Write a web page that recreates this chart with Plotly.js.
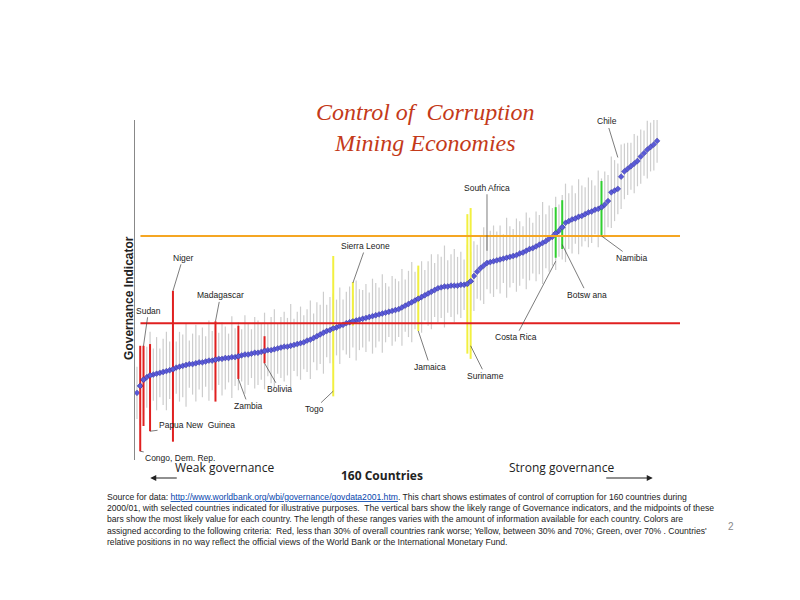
<!DOCTYPE html>
<html>
<head>
<meta charset="utf-8">
<script src="https://cdn.plot.ly/plotly-3.0.1.min.js"></script>
<style>body{margin:0;background:#fff}#chart{width:800px;height:600px}</style>
</head>
<body>
<div id="chart"></div>
<script>
// midpoint estimates for the 160 countries, sorted
var midpoints = [
  -1.30,-1.22,-1.15,-1.12,-1.10,-1.09,-1.08,-1.07,-1.06,-1.05,
  -1.04,-1.03,-1.01,-1.00,-0.99,-0.98,-0.97,-0.97,-0.96,-0.95,
  -0.95,-0.94,-0.93,-0.93,-0.92,-0.91,-0.91,-0.90,-0.90,-0.89,
  -0.89,-0.88,-0.87,-0.86,-0.86,-0.85,-0.84,-0.84,-0.83,-0.82,
  -0.81,-0.81,-0.80,-0.79,-0.78,-0.77,-0.77,-0.76,-0.75,-0.74,
  -0.73,-0.72,-0.70,-0.69,-0.67,-0.65,-0.63,-0.61,-0.59,-0.58,
  -0.56,-0.55,-0.53,-0.52,-0.50,-0.49,-0.48,-0.47,-0.46,-0.45,
  -0.44,-0.43,-0.42,-0.41,-0.40,-0.39,-0.38,-0.37,-0.36,-0.35,
  -0.34,-0.32,-0.30,-0.28,-0.26,-0.24,-0.22,-0.20,-0.18,-0.16,
  -0.14,-0.12,-0.10,-0.09,-0.08,-0.08,-0.07,-0.07,-0.07,-0.06,
  -0.06,-0.05,-0.02,0.04,0.09,0.13,0.16,0.19,0.20,0.21,
  0.22,0.23,0.24,0.25,0.26,0.27,0.28,0.30,0.31,0.33,
  0.35,0.36,0.38,0.40,0.42,0.44,0.47,0.49,0.53,0.56,
  0.60,0.65,0.67,0.69,0.70,0.72,0.73,0.75,0.77,0.78,
  0.80,0.81,0.83,0.86,0.90,1.00,1.02,1.04,1.18,1.24,
  1.27,1.30,1.33,1.36,1.41,1.45,1.49,1.52,1.55,1.59
];
// half-length of the likely range for each country
var ranges = [
  0.30,0.45,0.40,0.35,0.50,0.30,0.42,0.28,0.38,0.45,
  0.33,0.50,0.30,0.40,0.36,0.48,0.27,0.35,0.44,0.31,
  0.40,0.29,0.46,0.34,0.38,0.30,0.42,0.36,0.28,0.47,
  0.33,0.39,0.30,0.45,0.35,0.28,0.41,0.37,0.32,0.44,
  0.30,0.38,0.46,0.29,0.35,0.40,0.33,0.48,0.30,0.37,
  0.42,0.31,0.36,0.45,0.28,0.39,0.34,0.47,0.30,0.38,
  0.40,0.32,0.44,0.29,0.36,0.41,0.30,0.46,0.35,0.33,
  0.39,0.28,0.43,0.37,0.31,0.45,0.34,0.29,0.40,0.36,
  0.32,0.44,0.30,0.38,0.46,0.33,0.35,0.41,0.29,0.37,
  0.43,0.31,0.39,0.35,0.47,0.30,0.36,0.42,0.33,0.38,
  0.29,0.45,0.34,0.40,0.31,0.37,0.44,0.30,0.36,0.41,
  0.33,0.39,0.28,0.46,0.35,0.31,0.42,0.37,0.30,0.44,
  0.36,0.29,0.40,0.34,0.47,0.31,0.38,0.33,0.42,0.30,
  0.37,0.45,0.32,0.39,0.29,0.43,0.35,0.31,0.40,0.36,
  0.28,0.44,0.33,0.38,0.30,0.41,0.35,0.29,0.37,0.32,
  0.30,0.27,0.34,0.29,0.31,0.26,0.33,0.28,0.30,0.25
];
// highlighted countries: index, colour, range above and below midpoint
var hlIndex = [1, 2, 4, 11, 24, 31, 39, 60, 66, 86, 101, 102, 128, 130, 142];
var hlColor = ["#e02020","#e02020","#e02020","#e02020","#e02020","#e02020","#e02020",
               "#f2f040","#f2f040","#f2f040","#f2f040","#f2f040",
               "#30d030","#30d030","#30d030"];
var hlUp   = [0.46, 0.39, 0.36, 0.90, 0.44, 0.35, 0.17, 0.83, 0.45, 0.38, 0.80, 0.84, 0.30, 0.31, 0.30];
var hlDown = [0.75, 0.53, 0.64, 0.83, 0.48, 0.26, 0.14, 0.78, 0.05, 0.37, 0.80, 0.89, 0.28, 0.25, 0.33];

var labels = [
  {t:"Chile", i:147, y:1.40, ax:-11, ay:-36},
  {t:"South Africa", i:107, y:0.33, ax:0, ay:-63},
  {t:"Sierra Leone", i:66, y:-0.04, ax:13, ay:-37},
  {t:"Niger", i:11, y:-0.13, ax:10, ay:-33},
  {t:"Madagascar", i:24, y:-0.48, ax:5, ay:-26},
  {t:"Sudan", i:2, y:-0.76, ax:5, ay:-35},
  {t:"Namibia", i:142, y:0.50, ax:30, ay:22},
  {t:"Botsw ana", i:130, y:0.40, ax:25, ay:50},
  {t:"Costa Rica", i:128, y:0.21, ax:-40, ay:76},
  {t:"Suriname", i:102, y:-0.76, ax:15, ay:30},
  {t:"Jamaica", i:86, y:-0.59, ax:12, ay:36},
  {t:"Togo", i:60, y:-1.28, ax:-19, ay:18},
  {t:"Bolivia", i:39, y:-0.96, ax:15, ay:26},
  {t:"Zambia", i:31, y:-1.14, ax:10, ay:27},
  {t:"Papua New  Guinea", i:4, y:-1.74, ax:47, ay:-6},
  {t:"Congo, Dem. Rep.", i:1, y:-1.97, ax:40, ay:7}
];

var idx = midpoints.map(function (v, i) { return i; });
var mk = {symbol: "diamond", size: 4.5, color: "#5a5ad8", line: {color: "#2a2a90", width: 0.4}};
var data = [{
  x: idx, y: midpoints, type: "scatter", mode: "markers",
  error_y: {type: "data", array: ranges, color: "#cdcdcd", thickness: 1.2, width: 0},
  marker: mk
}];
hlIndex.forEach(function (k, j) {
  data.push({
    x: [k], y: [midpoints[k]], type: "scatter", mode: "markers",
    error_y: {type: "data", symmetric: false, array: [hlUp[j]], arrayminus: [hlDown[j]],
              color: hlColor[j], thickness: 2, width: 0},
    marker: mk
  });
});

var ann = labels.map(function (l) {
  return {x: l.i, y: l.y, ax: l.ax, ay: l.ay, text: l.t, showarrow: true, arrowhead: 0,
          arrowwidth: 0.7, arrowcolor: "#444", font: {family: "Liberation Sans", size: 8.5, color: "#222"}};
});
ann.push(
  {xref: "paper", yref: "paper", x: 0.532, y: 1.068, showarrow: false,
   text: "Control of  Corruption<br>Mining Economies",
   font: {family: "Liberation Serif", size: 24, color: "#c43a1a", style: "italic"}},
  {xref: "paper", yref: "paper", x: -0.028, y: 0.476, showarrow: false, textangle: -90,
   text: "<b>Governance Indicator</b>", font: {family: "Liberation Sans", size: 12, color: "#222"}},
  {xref: "paper", yref: "paper", x: 0.454, y: -0.015, yanchor: "top", showarrow: false,
   text: "<b>160 Countries</b>", font: {family: "Open Sans", size: 12, color: "#222"}},
  {xref: "paper", yref: "paper", x: 0.165, y: -0.053, xanchor: "center", showarrow: false,
   text: "Weak governance", font: {family: "Open Sans", size: 12, color: "#222"}},
  {xref: "paper", yref: "paper", x: 0.783, y: -0.053, xanchor: "center", showarrow: false,
   text: "Strong governance", font: {family: "Open Sans", size: 12, color: "#222"}},
  {xref: "paper", yref: "paper", x: 0.028, y: -0.053, ax: 28, ay: 0, text: "",
   showarrow: true, arrowhead: 2, arrowwidth: 1.2, arrowcolor: "#222"},
  {xref: "paper", yref: "paper", x: 0.95, y: -0.053, ax: -48, ay: 0, text: "",
   showarrow: true, arrowhead: 2, arrowwidth: 1.2, arrowcolor: "#222"},
  {xref: "paper", yref: "paper", x: -0.055, y: -0.088, xanchor: "left", yanchor: "top",
   align: "left", showarrow: false,
   font: {family: "Liberation Sans", size: 8.6, color: "#222"},
   text: "Source for data: <a href='http://www.worldbank.org/wbi/governance/govdata2001.htm' style='color:#0645ad'><u>http://www.worldbank.org/wbi/governance/govdata2001.htm</u></a>. This chart shows estimates of control of corruption for 160 countries during<br>" +
         "2000/01, with selected countries indicated for illustrative purposes.  The vertical bars show the likely range of Governance indicators, and the midpoints of these<br>" +
         "bars show the most likely value for each country. The length of these ranges varies with the amount of information available for each country. Colors are<br>" +
         "assigned according to the following criteria:  Red, less than 30% of overall countries rank worse; Yellow, between 30% and 70%; Green, over 70% . Countries'<br>" +
         "relative positions in no way reflect the official views of the World Bank or the International Monetary Fund."},
  {xref: "paper", yref: "paper", x: 1.103, y: -0.218, showarrow: false,
   text: "2", font: {family: "Liberation Sans", size: 10, color: "#888"}}
);

var layout = {
  width: 800, height: 600,
  margin: {l: 135, r: 120, t: 120, b: 140},
  showlegend: false,
  paper_bgcolor: "#fff", plot_bgcolor: "#fff",
  xaxis: {range: [-0.6, 166], showgrid: false, zeroline: false, showticklabels: false, ticks: ""},
  yaxis: {range: [-2.07, 1.83], showgrid: false, zeroline: false, showticklabels: false, ticks: "",
          showline: true, linecolor: "#888", linewidth: 1},
  shapes: [
    {type: "line", xref: "paper", x0: 0.01, x1: 1, y0: 0.5, y1: 0.5, line: {color: "#f5a623", width: 2}},
    {type: "line", xref: "paper", x0: 0.01, x1: 1, y0: -0.5, y1: -0.5, line: {color: "#e02020", width: 2}}
  ],
  annotations: ann
};
Plotly.newPlot("chart", data, layout, {staticPlot: true});
</script>
</body>
</html>
